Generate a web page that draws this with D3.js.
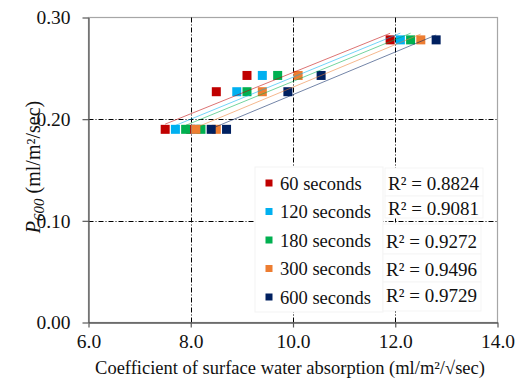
<!DOCTYPE html>
<html>
<head>
<meta charset="utf-8">
<script src="https://cdn.jsdelivr.net/npm/d3@7/dist/d3.min.js"></script>
<style>
  html, body { margin: 0; padding: 0; background: #fff; }
  svg text { font-family: "Liberation Serif", "Times New Roman", serif !important; }
</style>
</head>
<body>
<svg id="chart" width="519" height="383"></svg>
<script>
// Absorption coefficient (x) against P600 (y) for five test durations
const seriesNames = ["60 seconds", "120 seconds", "180 seconds", "300 seconds", "600 seconds"];
const seriesColors = ["#C00000", "#00B0F0", "#00B050", "#ED7D31", "#002060"];
const p600Values = [0.19, 0.19, 0.227, 0.243, 0.278];
const absorption60 = [7.5, 8.0, 8.5, 9.1, 11.9];
const absorption120 = [7.7, 8.1, 8.9, 9.4, 12.1];
const absorption180 = [7.9, 8.2, 9.1, 9.7, 12.3];
const absorption300 = [8.1, 8.5, 9.4, 10.1, 12.5];
const absorption600 = [8.4, 8.7, 9.9, 10.55, 12.8];
const rSquaredLabels = ["R² = 0.8824", "R² = 0.9081", "R² = 0.9272", "R² = 0.9496", "R² = 0.9729"];
const xTickValues = [6, 8, 10, 12, 14];
const yTickValues = [0, 0.1, 0.2, 0.3];

const absorptionSeries = [absorption60, absorption120, absorption180, absorption300, absorption600];

const svg = d3.select("#chart");
const plot = { left: 88.5, right: 497.5, top: 17.5, bottom: 322.5 };

const x = d3.scaleLinear().domain([6, 14]).range([plot.left, plot.right]);
const y = d3.scaleLinear().domain([0, 0.3]).range([plot.bottom, plot.top]);

// Plot frame
svg.append("rect")
  .attr("x", plot.left).attr("y", plot.top)
  .attr("width", plot.right - plot.left).attr("height", plot.bottom - plot.top)
  .attr("fill", "none").attr("stroke", "#a6a6a6").attr("stroke-width", 1.2);

// Dash-dot gridlines
const gridStyle = g => g.attr("stroke", "#000").attr("stroke-width", 1)
  .attr("stroke-dasharray", "5,2,1,2");
svg.append("g").selectAll("line").data(yTickValues.filter(v => v > 0 && v < 0.3)).join("line")
  .attr("x1", plot.left).attr("x2", plot.right)
  .attr("y1", d => Math.round(y(d)) + 0.5).attr("y2", d => Math.round(y(d)) + 0.5)
  .call(gridStyle);
svg.append("g").selectAll("line").data(xTickValues.filter(v => v > 6 && v < 14)).join("line")
  .attr("y1", plot.top).attr("y2", plot.bottom)
  .attr("x1", d => Math.round(x(d)) + 0.5).attr("x2", d => Math.round(x(d)) + 0.5)
  .call(gridStyle);

// Axes
const xAxis = d3.axisBottom(x).tickValues(xTickValues).tickFormat(d3.format(".1f"))
  .tickSizeInner(5).tickSizeOuter(0).tickPadding(7);
const yAxis = d3.axisLeft(y).tickValues(yTickValues).tickFormat(d3.format(".2f"))
  .tickSizeInner(6).tickSizeOuter(0).tickPadding(12);

const gx = svg.append("g").attr("transform", `translate(0,${plot.bottom})`).call(xAxis);
const gy = svg.append("g").attr("transform", `translate(${plot.left},0)`).call(yAxis);
[gx, gy].forEach(g => {
  g.attr("font-family", null);
  g.select(".domain").attr("stroke", "#595959").attr("stroke-width", 1.3);
  g.selectAll(".tick line").attr("stroke", "#595959").attr("stroke-width", 1.2);
  g.selectAll(".tick text").attr("fill", "#111").attr("font-size", 19.5);
});

// Data markers
const markerSize = 9;
absorptionSeries.forEach((xs, i) => {
  svg.append("g").selectAll("rect").data(xs.map((v, j) => [v, p600Values[j]])).join("rect")
    .attr("x", d => x(d[0]) - markerSize / 2)
    .attr("y", d => y(d[1]) - markerSize / 2)
    .attr("width", markerSize).attr("height", markerSize)
    .attr("fill", seriesColors[i]);
});

// Least-squares trendlines over each series' x range
absorptionSeries.forEach((xs, i) => {
  const mx = d3.mean(xs), my = d3.mean(p600Values);
  const sxy = d3.sum(xs, (v, j) => (v - mx) * (p600Values[j] - my));
  const sxx = d3.sum(xs, v => (v - mx) ** 2);
  const slope = sxy / sxx, icpt = my - slope * mx;
  const [x0, x1] = d3.extent(xs);
  svg.append("line")
    .attr("x1", x(x0)).attr("y1", y(icpt + slope * x0))
    .attr("x2", x(x1)).attr("y2", y(icpt + slope * x1))
    .attr("stroke", seriesColors[i]).attr("stroke-width", 1)
    .attr("stroke-opacity", 0.55);
});

// Legend box
const legend = svg.append("g");
legend.append("rect").attr("x", 255).attr("y", 167).attr("width", 128).attr("height", 145)
  .attr("fill", "#fff").attr("stroke", "#f3f3f3");
seriesNames.forEach((name, i) => {
  const cy = 183 + i * 28.5;
  legend.append("rect").attr("x", 265.5).attr("y", cy - 3.5).attr("width", 7).attr("height", 7)
    .attr("fill", seriesColors[i]);
  legend.append("text").attr("x", 280).attr("y", cy + 6.5)
    .attr("font-size", 18.5).attr("fill", "#111").text(name);
});

// R² labels, each on its own white box
const rBoxes = [[385, 168, 98, 28], [385, 196, 98, 22], [383, 224, 98, 30], [383, 254, 98, 28], [383, 282, 98, 29]];
const rCenters = [183.5, 208, 241.5, 269, 295];
rSquaredLabels.forEach((label, i) => {
  const b = rBoxes[i];
  svg.append("rect").attr("x", b[0]).attr("y", b[1]).attr("width", b[2]).attr("height", b[3])
    .attr("fill", "#fff").attr("stroke", "#f5f5f5");
  svg.append("text").attr("x", b[0] + b[2] / 2 - 0.5).attr("y", rCenters[i] + 6.5)
    .attr("text-anchor", "middle").attr("font-size", 19).attr("fill", "#111").text(label);
});

// Axis titles
svg.append("text").attr("x", (plot.left + plot.right) / 2 - 3).attr("y", 374)
  .attr("text-anchor", "middle").attr("font-size", 18.5).attr("fill", "#111")
  .text("Coefficient of surface water absorption (ml/m²/√sec)");

const yTitle = svg.append("text")
  .attr("transform", "translate(40,167) rotate(-90)")
  .attr("text-anchor", "middle").attr("font-size", 20).attr("fill", "#111");
yTitle.append("tspan").attr("font-style", "italic").text("P");
yTitle.append("tspan").attr("font-style", "italic").attr("font-size", 15).attr("dy", 4).text("600");
yTitle.append("tspan").attr("dy", -4).text(" (ml/m²/sec)");
</script>
</body>
</html>
